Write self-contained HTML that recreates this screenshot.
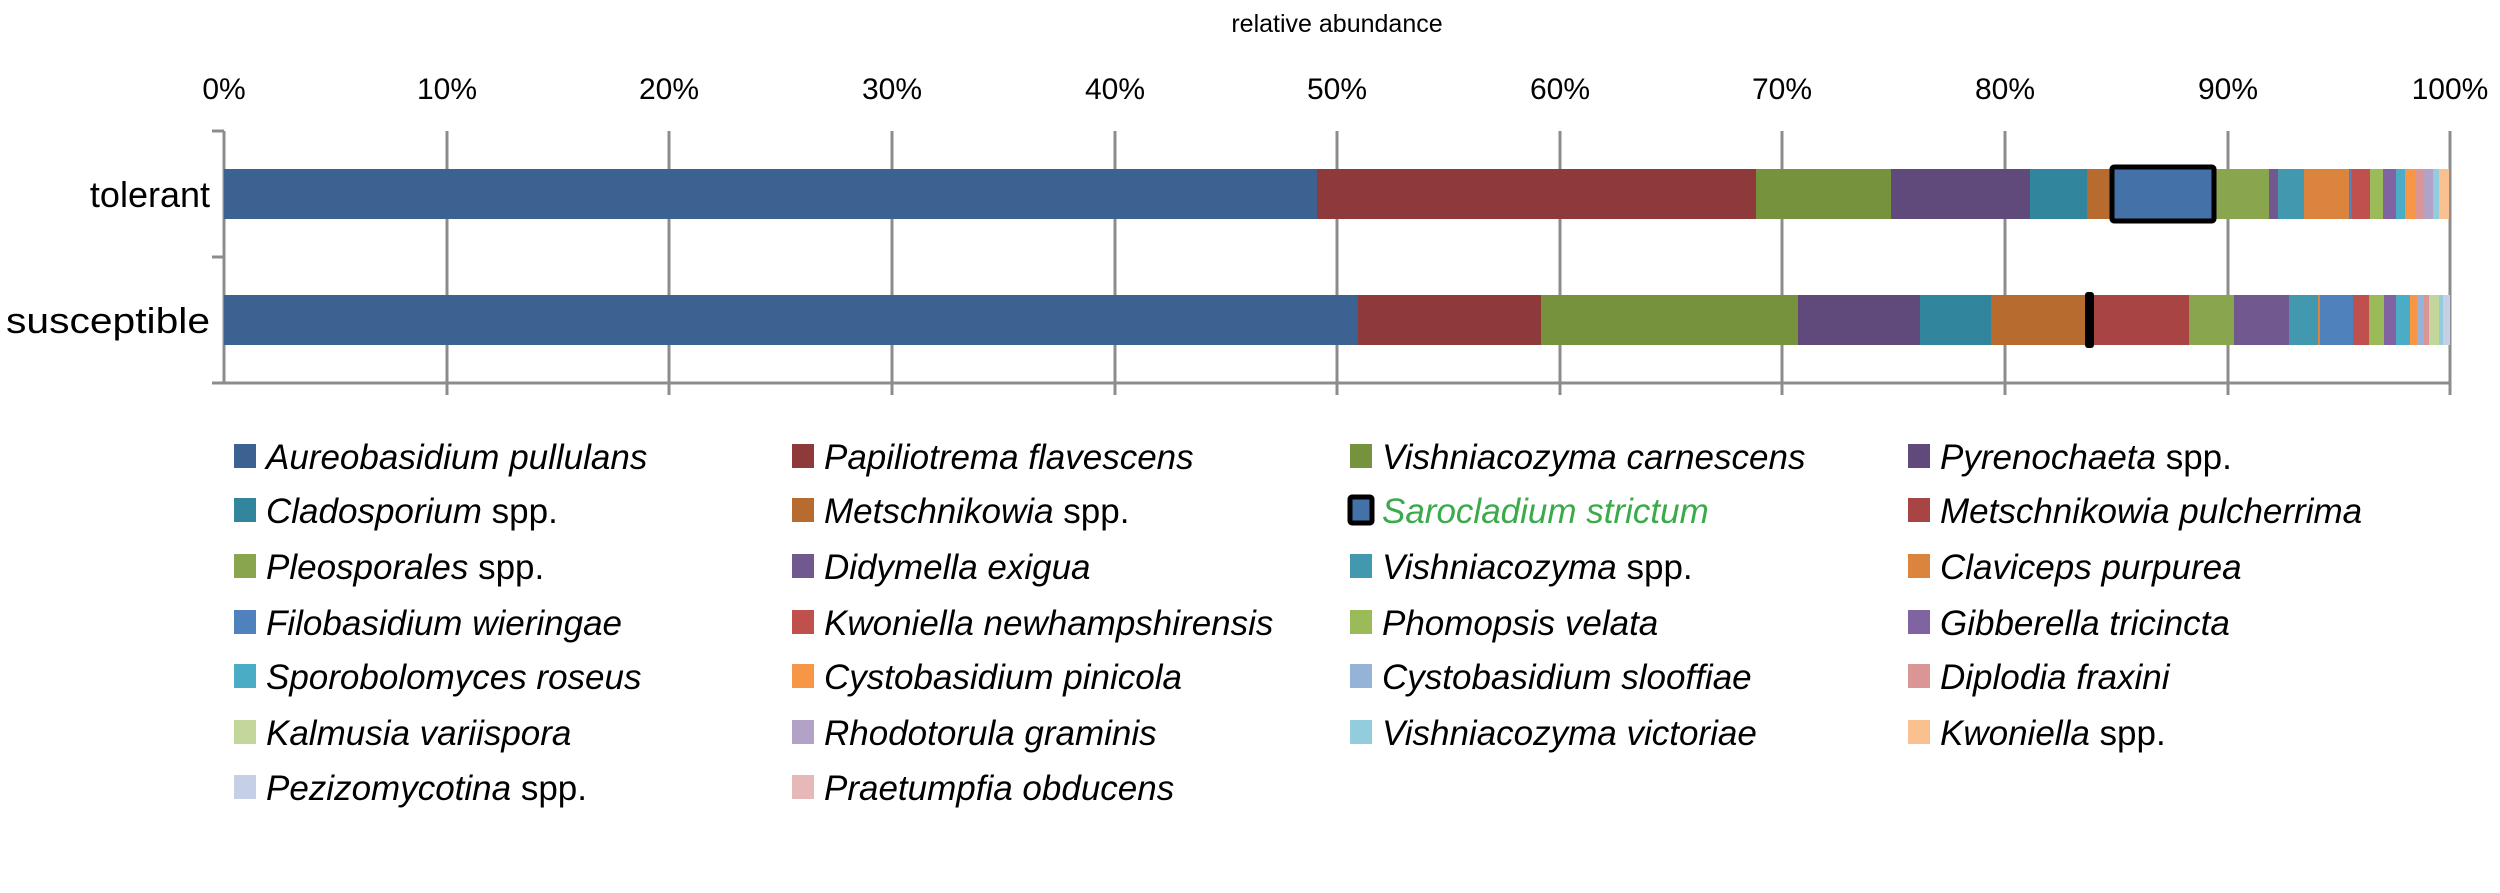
<!DOCTYPE html>
<html><head><meta charset="utf-8"><style>
html,body{margin:0;padding:0;background:#fff;}
svg{display:block;}
text{font-family:"Liberation Sans",sans-serif;fill:#000;}
.lg{font-size:35px;font-style:italic;}
.n{font-style:normal;}
</style></head><body>
<svg width="2500" height="893" viewBox="0 0 2500 893" xmlns="http://www.w3.org/2000/svg">
<text x="1337" y="32" font-size="25" text-anchor="middle">relative abundance</text>
<g font-size="30" text-anchor="middle">
<text x="224" y="99">0%</text><text x="447" y="99">10%</text><text x="669" y="99">20%</text><text x="892" y="99">30%</text><text x="1115" y="99">40%</text><text x="1337" y="99">50%</text><text x="1560" y="99">60%</text><text x="1782" y="99">70%</text><text x="2005" y="99">80%</text><text x="2228" y="99">90%</text><text x="2450" y="99">100%</text>
</g>
<g stroke="#8c8c8c" stroke-width="3">
<line x1="224" y1="131" x2="224" y2="384"/>
<line x1="212" y1="131" x2="224" y2="131"/><line x1="212" y1="257" x2="224" y2="257"/><line x1="212" y1="383" x2="224" y2="383"/>
<line x1="224" y1="383" x2="2451" y2="383"/>
<line x1="447" y1="131" x2="447" y2="395"/><line x1="669" y1="131" x2="669" y2="395"/><line x1="892" y1="131" x2="892" y2="395"/><line x1="1115" y1="131" x2="1115" y2="395"/><line x1="1337" y1="131" x2="1337" y2="395"/><line x1="1560" y1="131" x2="1560" y2="395"/><line x1="1782" y1="131" x2="1782" y2="395"/><line x1="2005" y1="131" x2="2005" y2="395"/><line x1="2228" y1="131" x2="2228" y2="395"/><line x1="2450" y1="131" x2="2450" y2="395"/>
</g>
<text x="210" y="207" font-size="36" text-anchor="end">tolerant</text>
<text x="210" y="333" font-size="36" text-anchor="end" textLength="204" lengthAdjust="spacingAndGlyphs">susceptible</text>
<!-- tolerant -->
<g transform="translate(0,169)">
<rect x="224" width="1093" height="50" fill="#3c6291"/>
<rect x="1317" width="439" height="50" fill="#8e3a3a"/>
<rect x="1756" width="135" height="50" fill="#76923c"/>
<rect x="1891" width="139" height="50" fill="#5f4a7b"/>
<rect x="2030" width="57" height="50" fill="#31859c"/>
<rect x="2087" width="23" height="50" fill="#b86b2e"/>
<rect x="2110" width="106" height="50" fill="#4472a8"/>
<rect x="2216" width="53" height="50" fill="#89a54e"/>
<rect x="2269" width="9" height="50" fill="#71588f"/>
<rect x="2278" width="26" height="50" fill="#4198af"/>
<rect x="2304" width="45" height="50" fill="#db843d"/>
<rect x="2349" width="3" height="50" fill="#4f81bd"/>
<rect x="2352" width="18" height="50" fill="#c0504d"/>
<rect x="2370" width="13" height="50" fill="#9bbb59"/>
<rect x="2383" width="13" height="50" fill="#8064a2"/>
<rect x="2396" width="9" height="50" fill="#4bacc6"/>
<rect x="2405" width="10" height="50" fill="#f79646"/>
<rect x="2415" width="9" height="50" fill="#d99694"/>
<rect x="2424" width="9" height="50" fill="#b2a2c7"/>
<rect x="2433" width="6" height="50" fill="#93cddd"/>
<rect x="2439" width="10" height="50" fill="#fac090"/>
<rect x="2112" y="-2" width="102" height="54" fill="none" stroke="#000" stroke-width="5" rx="2"/>
</g>
<!-- susceptible -->
<g transform="translate(0,295)">
<rect x="224" width="1134" height="50" fill="#3c6291"/>
<rect x="1358" width="183" height="50" fill="#8e3a3a"/>
<rect x="1541" width="257" height="50" fill="#76923c"/>
<rect x="1798" width="122" height="50" fill="#5f4a7b"/>
<rect x="1920" width="71" height="50" fill="#31859c"/>
<rect x="1991" width="94" height="50" fill="#b86b2e"/>
<rect x="2094" width="95" height="50" fill="#a84444"/>
<rect x="2189" width="45" height="50" fill="#89a54e"/>
<rect x="2234" width="55" height="50" fill="#71588f"/>
<rect x="2289" width="29" height="50" fill="#4198af"/>
<rect x="2318" width="2" height="50" fill="#db843d"/>
<rect x="2320" width="33" height="50" fill="#4f81bd"/>
<rect x="2353" width="16" height="50" fill="#c0504d"/>
<rect x="2369" width="15" height="50" fill="#9bbb59"/>
<rect x="2384" width="12" height="50" fill="#8064a2"/>
<rect x="2396" width="14" height="50" fill="#4bacc6"/>
<rect x="2410" width="7" height="50" fill="#f79646"/>
<rect x="2417" width="7" height="50" fill="#95b3d7"/>
<rect x="2424" width="5" height="50" fill="#d99694"/>
<rect x="2429" width="10" height="50" fill="#c3d69b"/>
<rect x="2439" width="4" height="50" fill="#93cddd"/>
<rect x="2443" width="7" height="50" fill="#c5d0e6"/>
<rect x="2085" y="-3" width="9" height="56" fill="#000" rx="3"/>
</g>
<!-- legend -->
<g class="lg">
<rect x="234" y="444" width="22" height="24" fill="#3c6291"/><text x="266" y="469">Aureobasidium pullulans</text>
<rect x="792" y="444" width="22" height="24" fill="#8e3a3a"/><text x="824" y="469">Papiliotrema flavescens</text>
<rect x="1350" y="444" width="22" height="24" fill="#76923c"/><text x="1382" y="469">Vishniacozyma carnescens</text>
<rect x="1908" y="444" width="22" height="24" fill="#5f4a7b"/><text x="1940" y="469">Pyrenochaeta<tspan class="n"> spp.</tspan></text>

<rect x="234" y="498" width="22" height="24" fill="#31859c"/><text x="266" y="523">Cladosporium<tspan class="n"> spp.</tspan></text>
<rect x="792" y="498" width="22" height="24" fill="#b86b2e"/><text x="824" y="523">Metschnikowia<tspan class="n"> spp.</tspan></text>
<rect x="1350" y="497" width="22" height="26" fill="#4472a8" stroke="#000" stroke-width="5" rx="2"/><text x="1382" y="523" style="fill:#3aaa4a">Sarocladium strictum</text>
<rect x="1908" y="498" width="22" height="24" fill="#a84444"/><text x="1940" y="523">Metschnikowia pulcherrima</text>

<rect x="234" y="554" width="22" height="24" fill="#89a54e"/><text x="266" y="579">Pleosporales<tspan class="n"> spp.</tspan></text>
<rect x="792" y="554" width="22" height="24" fill="#71588f"/><text x="824" y="579">Didymella exigua</text>
<rect x="1350" y="554" width="22" height="24" fill="#4198af"/><text x="1382" y="579">Vishniacozyma<tspan class="n"> spp.</tspan></text>
<rect x="1908" y="554" width="22" height="24" fill="#db843d"/><text x="1940" y="579">Claviceps purpurea</text>

<rect x="234" y="610" width="22" height="24" fill="#4f81bd"/><text x="266" y="635">Filobasidium wieringae</text>
<rect x="792" y="610" width="22" height="24" fill="#c0504d"/><text x="824" y="635">Kwoniella newhampshirensis</text>
<rect x="1350" y="610" width="22" height="24" fill="#9bbb59"/><text x="1382" y="635">Phomopsis velata</text>
<rect x="1908" y="610" width="22" height="24" fill="#8064a2"/><text x="1940" y="635">Gibberella tricincta</text>

<rect x="234" y="664" width="22" height="24" fill="#4bacc6"/><text x="266" y="689">Sporobolomyces roseus</text>
<rect x="792" y="664" width="22" height="24" fill="#f79646"/><text x="824" y="689">Cystobasidium pinicola</text>
<rect x="1350" y="664" width="22" height="24" fill="#95b3d7"/><text x="1382" y="689">Cystobasidium slooffiae</text>
<rect x="1908" y="664" width="22" height="24" fill="#d99694"/><text x="1940" y="689">Diplodia fraxini</text>

<rect x="234" y="720" width="22" height="24" fill="#c3d69b"/><text x="266" y="745">Kalmusia variispora</text>
<rect x="792" y="720" width="22" height="24" fill="#b2a2c7"/><text x="824" y="745">Rhodotorula graminis</text>
<rect x="1350" y="720" width="22" height="24" fill="#93cddd"/><text x="1382" y="745">Vishniacozyma victoriae</text>
<rect x="1908" y="720" width="22" height="24" fill="#fac090"/><text x="1940" y="745">Kwoniella<tspan class="n"> spp.</tspan></text>

<rect x="234" y="775" width="22" height="24" fill="#c5d0e6"/><text x="266" y="800">Pezizomycotina<tspan class="n"> spp.</tspan></text>
<rect x="792" y="775" width="22" height="24" fill="#e6b9b8"/><text x="824" y="800">Praetumpfia obducens</text>
</g>
</svg>
</body></html>
